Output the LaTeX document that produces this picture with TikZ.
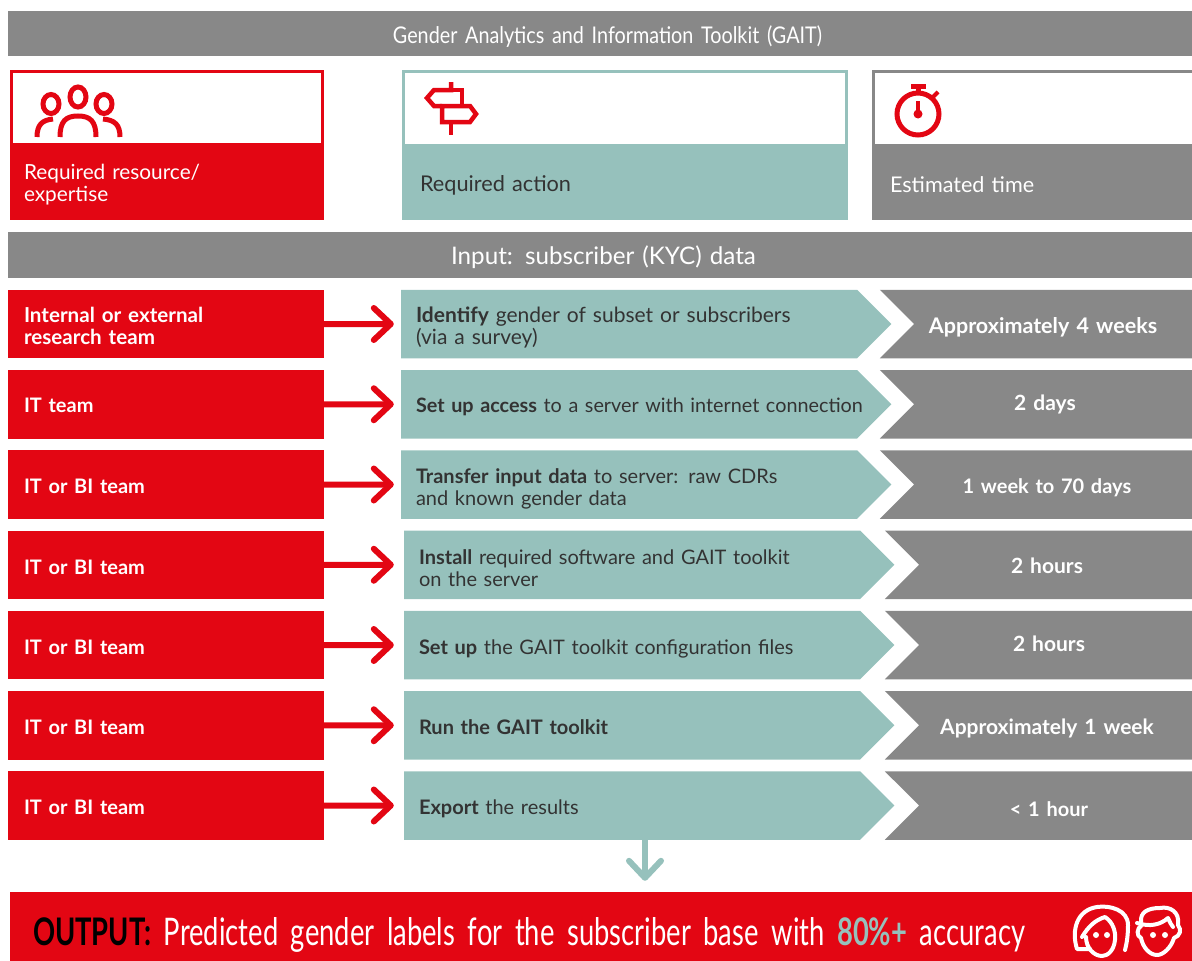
\documentclass[tikz,border=0pt]{standalone}
\usepackage{fontspec}
\setmainfont{Lato}
\newfontfamily\condfont[FakeStretch=0.72,WordSpace=0.6]{Lato}
\newfontfamily\titlefont[FakeStretch=0.86]{Lato}
\usetikzlibrary{shapes,arrows.meta}
\definecolor{gsmared}{HTML}{E30613}
\definecolor{gsmateal}{HTML}{96C1BC}
\definecolor{gsmagrey}{HTML}{888888}
\definecolor{gsmaink}{HTML}{333333}
\tikzstyle{banner} = [rectangle,minimum width=1184pt,minimum height=45.5pt,text width=1184pt,inner sep=0pt,align=center,fill=gsmagrey,text=white,text height=24pt]
\tikzstyle{legendtop} = [rectangle,line width=2.5pt,outer sep=0pt,fill=white,anchor=north west,inner sep=0pt]
\tikzstyle{legendlow} = [rectangle,anchor=south west,outer sep=0pt,inner sep=0pt,align=left]
\tikzstyle{team} = [rectangle,minimum width=316pt,minimum height=68.5pt,text width=284pt,inner sep=0pt,align=left,fill=gsmared,text=white,text height=19pt,font=\fontsize{20}{22}\selectfont\bfseries]
\tikzstyle{action} = [signal,signal to=east,signal pointer angle=90,minimum height=68.5pt,text width=426pt,inner xsep=15pt,inner ysep=0pt,align=left,fill=gsmateal,text=gsmaink,text height=23pt,font=\fontsize{20}{22}\selectfont]
\tikzstyle{duration} = [signal,signal from=west,signal to=nowhere,signal pointer angle=90,minimum height=68.5pt,text width=268pt,inner xsep=5pt,inner ysep=0pt,align=center,fill=gsmagrey,text=white,font=\fontsize{21}{22}\selectfont\bfseries]
\tikzstyle{flow} = [line width=6pt,-{Straight Barb[round,line width=6pt,length=17pt,width=32pt]}]
\tikzstyle{icon} = [line width=5pt,draw=gsmared]
\tikzstyle{face} = [line width=4pt,draw=white,line cap=round,line join=round]

\begin{document}
\begin{tikzpicture}[x=1pt,y=-1pt,node distance=80.25pt]
\useasboundingbox (0,0) rectangle (1192,961);
\node (title) [banner,font=\fontsize{23}{26}\selectfont\titlefont] at (600,33.5) {\hspace*{15pt}Gender Analytics and Information Toolkit (GAIT)};

% legend
\node (legres) [legendtop,draw=gsmared,minimum width=311pt,minimum height=147pt] at (11.25,71.25) {};
\node (legreslow) [legendlow,fill=gsmared,text=white,minimum width=313pt,minimum height=76pt,text width=285pt,inner xsep=14pt,text height=22pt,font=\fontsize{20.8}{22}\selectfont] at (10,219) {Required resource/\\expertise};
\node (legact) [legendtop,draw=gsmateal,minimum width=443pt,minimum height=147pt] at (403.25,71.25) {};
\node (legactlow) [legendlow,fill=gsmateal,text=gsmaink,minimum width=445pt,minimum height=75pt,text width=409pt,inner xsep=18pt,text height=24pt,font=\fontsize{21.7}{24}\selectfont] at (402,219) {Required action};
\node (legtime) [legendtop,draw=gsmagrey,minimum width=322pt,minimum height=147pt] at (873.25,71.25) {};
\node (legtimelow) [legendlow,fill=gsmagrey,text=white,minimum width=320pt,minimum height=75pt,text width=284pt,inner xsep=18pt,text height=22pt,font=\fontsize{21.6}{24}\selectfont] at (872,219) {Estimated time};

\node (input) [banner,font=\fontsize{24.2}{28}\selectfont] at (600,255) {\hspace*{7pt}Input: subscriber (KYC) data};

% rows
\node (res1) [team,font=\fontsize{20.6}{22}\selectfont\bfseries] at (166,324) {Internal or external\\research team};
\node (res2) [team,below of=res1,text height=17pt] {IT team};
\node (res3) [team,below of=res2] {IT or BI team};
\node (res4) [team,below of=res3] {IT or BI team};
\node (res5) [team,below of=res4] {IT or BI team};
\node (res6) [team,below of=res5] {IT or BI team};
\node (res7) [team,below of=res6] {IT or BI team};

\node (act1) [action,font=\fontsize{21}{22}\selectfont] at (629,324) {\textbf{Identify} gender of subset or subscribers\\(via a survey)};
\node (act2) [action,below of=act1,font=\fontsize{19.8}{22}\selectfont,text height=19pt] {\mbox{\textbf{Set up access} to a server with internet connection}};
\node (act3) [action,below of=act2] {\textbf{Transfer input data} to server: raw CDRs\\and known gender data};
\node (act4) [action,below of=act3,xshift=3pt,text height=21pt] {\textbf{Install} required software and GAIT toolkit\\on the server};
\node (act5) [action,below of=act4] {\textbf{Set up} the GAIT toolkit configuration files};
\node (act6) [action,below of=act5,text height=19pt] {\textbf{Run the GAIT toolkit}};
\node (act7) [action,below of=act6,text height=21pt] {\textbf{Export} the results};

\node (time1) [duration,text height=23pt,font=\fontsize{21.5}{22}\selectfont\bfseries] at (1053,324) {\hspace*{-20pt}Approximately 4 weeks};
\node (time2) [duration,below of=time1] {\hspace*{-16pt}2 days};
\node (time3) [duration,below of=time2,text height=21pt,font=\fontsize{20}{22}\selectfont\bfseries] {\hspace*{-12pt}1 week to 70 days};
\node (time4) [duration,below of=time3,xshift=2.5pt,text width=263pt,text height=17pt] {\hspace*{-17pt}2 hours};
\node (time5) [duration,below of=time4,text width=263pt,text height=13pt] {\hspace*{-13pt}2 hours};
\node (time6) [duration,below of=time5,text width=263pt,text height=23pt] {\hspace*{-17pt}Approximately 1 week};
\node (time7) [duration,below of=time6,text width=263pt,text height=23pt,font=\fontsize{20}{22}\selectfont\bfseries] {\hspace*{-13pt}< 1 hour};

\node (output) [rectangle,minimum width=1182pt,minimum height=69pt,text width=1136pt,inner sep=0pt,align=left,fill=gsmared,text=white,text height=44pt,font=\fontsize{38}{40}\selectfont\condfont] at (601,926.5) {{\color{black}\bfseries OUTPUT:} Predicted gender labels for the subscriber base with {\color{gsmateal}\bfseries 80\%+} accuracy};

\draw [flow,gsmared,shorten >=7pt] (res1) -- (act1);
\draw [flow,gsmared,shorten >=7pt] (res2) -- (act2);
\draw [flow,gsmared,shorten >=7pt] (res3) -- (act3);
\draw [flow,gsmared,shorten >=10pt] (res4) -- (act4);
\draw [flow,gsmared,shorten >=10pt] (res5) -- (act5);
\draw [flow,gsmared,shorten >=10pt] (res6) -- (act6);
\draw [flow,gsmared,shorten >=10pt] (res7) -- (act7);
\coordinate (drop) at (645,840);
\draw [flow,gsmateal,shorten >=11pt] (drop) -- (drop|-output.north);

% icons
\draw [icon] (51,104) ellipse (8pt and 9.5pt);
\draw [icon] (78,97) ellipse (8pt and 10pt);
\draw [icon] (104,104) ellipse (8pt and 9.5pt);
\draw [icon] (37,137) .. controls (37,125) and (42,120) .. (53,119);
\draw [icon] (120,137) .. controls (120,125) and (115,120) .. (103,119);
\draw [icon] (60,137) .. controls (60,121) and (66,116) .. (78,116) .. controls (90,116) and (96,121) .. (96,137);
\draw [icon,line join=miter,line width=4.5pt] (451,82) -- (451,90) -- (434,90) -- (427,98) -- (434,106) -- (442,106);
\draw [icon,line join=miter,line width=4.5pt] (451,90) -- (462,90) -- (462,106);
\draw [icon,line join=miter,line width=4.5pt] (442,106) -- (470,106) -- (476,114) -- (470,122) -- (442,122) -- cycle;
\draw [icon,line width=4.5pt] (451,122) -- (451,135);
\draw [icon] (918,114) circle (21pt);
\draw [icon] (911,86) -- (926,86);
\draw [icon] (918,88) -- (918,93);
\draw [icon,line width=4pt] (933,97) -- (938,92);
\draw [icon,line width=3.5pt] (918,101) -- (918,114);
\fill [gsmared] (918,114) circle (4.5pt);
% faces
\draw [face] (1090,949) -- (1077,949) .. controls (1071,930) and (1077,910) .. (1097,907) .. controls (1110,905) and (1128,910) .. (1128,925) .. controls (1128,935) and (1127,942) .. (1125,950);
\draw [face] (1082,937) .. controls (1088,927) and (1095,920) .. (1105,917) .. controls (1113,922) and (1116,932) .. (1115,940) .. controls (1114,950) and (1108,956) .. (1102,956) .. controls (1094,956) and (1086,948) .. (1086,937);
\draw [face] (1137,923) .. controls (1150,927) and (1160,925) .. (1168,918) .. controls (1170,922) and (1171,925) .. (1173,927);
\draw [face] (1141,922) .. controls (1140,912) and (1148,908) .. (1160,908) .. controls (1170,906) and (1180,912) .. (1178,925) .. controls (1182,930) and (1180,936) .. (1174,938) .. controls (1171,948) and (1163,955) .. (1157,955) .. controls (1150,955) and (1143,948) .. (1141,938) .. controls (1136,936) and (1137,928) .. (1141,926);
\fill [white] (1096,935) circle (3pt) (1107,935) circle (3pt) (1153,935) circle (3pt) (1165,935) circle (3pt);
\end{tikzpicture}
\end{document}
